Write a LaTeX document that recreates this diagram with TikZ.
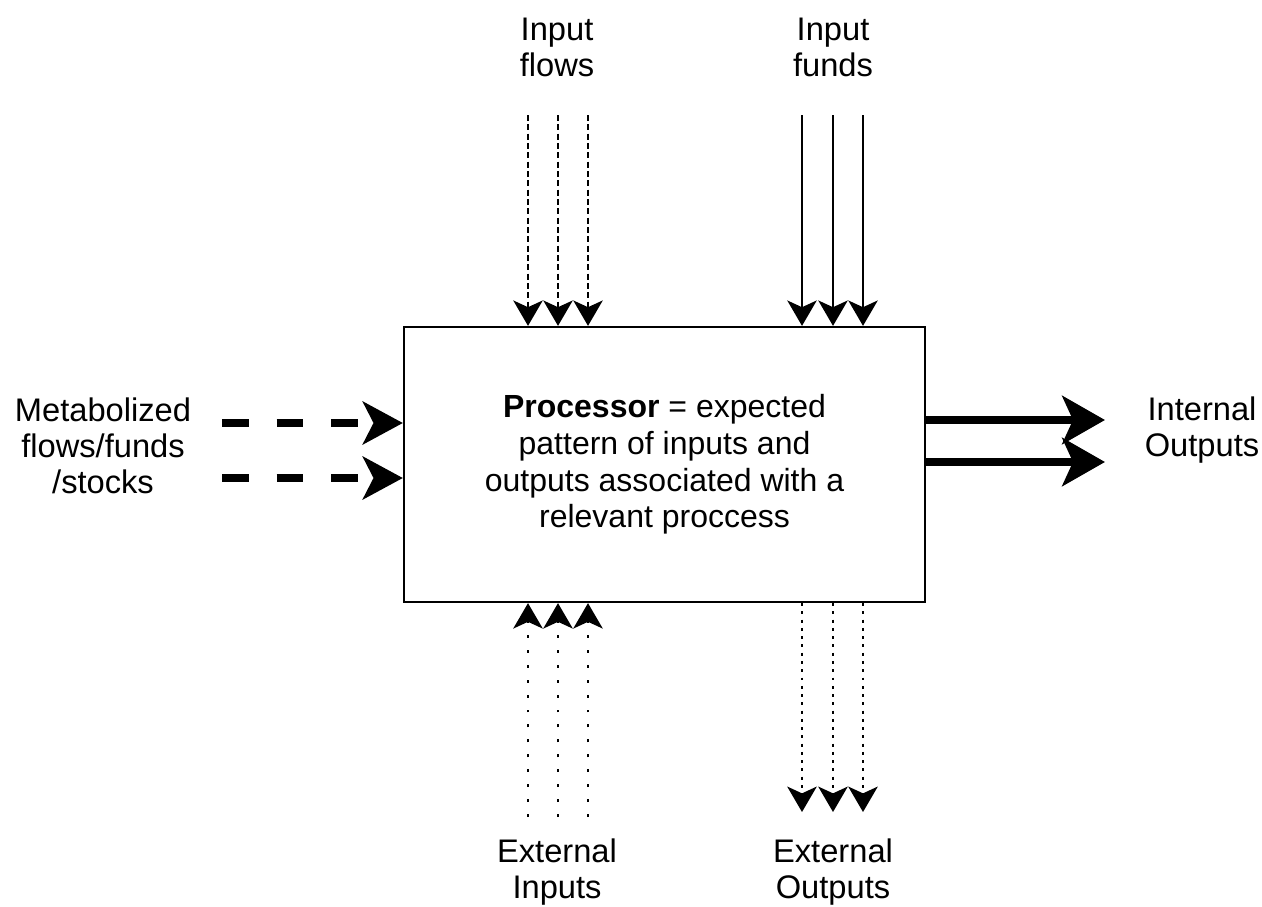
\documentclass[tikz,border=0pt]{standalone}
\usepackage{fontspec}
\setmainfont{Liberation Sans}
\usetikzlibrary{arrows.meta}
\begin{document}
\begin{tikzpicture}[x=0.75pt,y=-0.75pt,
  lbl/.style={align=center, inner sep=0pt, font=\fontsize{24.5}{27}\selectfont},
  procbox/.style={draw, line width=1.7pt, minimum width=390.75pt, minimum height=206.25pt,
    align=center, inner sep=0pt, font=\fontsize{24}{27.5}\selectfont},
  thintip/.style={-{Stealth[length=19pt,width=22pt,inset=5pt]}},
  flowin/.style={thintip, line width=2pt, dash pattern=on 4.5pt off 2.5pt},
  fundin/.style={thintip, line width=1.9pt},
  extin/.style={thintip, line width=2.2pt, dash pattern=on 2.2pt off 9pt},
  extout/.style={thintip, line width=2.2pt, dash pattern=on 2.2pt off 4pt},
  metab/.style={-{Stealth[length=30pt,width=32pt,inset=8pt]}, line width=6pt,
    dash pattern=on 20pt off 21pt},
  internal/.style={-{Stealth[length=32pt,width=36pt,inset=8pt]}, line width=6pt}]
\useasboundingbox (0,0) rectangle (1262,906);

% central processor
\node[procbox] (proc) at (664.5,464.5)
  {\textbf{Processor} = expected\\pattern of inputs and\\outputs associated with a\\relevant proccess};

% labels
\node[lbl] (lflows) at (557,47) {Input\\flows};
\node[lbl] (lfunds) at (833,47) {Input\\funds};
\node[lbl] (lmetab) at (103,446) {Metabolized\\flows/funds\\/stocks};
\node[lbl] (lint) at (1202,430) {Internal\\Outputs};
\node[lbl] (lextin) at (557,872) {External\\Inputs};
\node[lbl] (lextout) at (833,872) {External\\Outputs};

% free ends of the connectors
\coordinate (tf1) at (528,115);
\coordinate (tf2) at (558,115);
\coordinate (tf3) at (588,115);
\coordinate (tu1) at (802,115);
\coordinate (tu2) at (833,115);
\coordinate (tu3) at (863,115);
\coordinate (m1) at (222,423);
\coordinate (m2) at (222,478);
\coordinate (o1) at (1105,420);
\coordinate (o2) at (1105,462);
\coordinate (ei1) at (528,817);
\coordinate (ei2) at (558,817);
\coordinate (ei3) at (588,817);
\coordinate (eo1) at (802,812);
\coordinate (eo2) at (833,812);
\coordinate (eo3) at (863,812);

% input flows and funds
\foreach \c in {tf1,tf2,tf3} \draw[flowin] (\c) -- (\c |- proc.north);
\foreach \c in {tu1,tu2,tu3} \draw[fundin] (\c) -- (\c |- proc.north);

% metabolized elements
\foreach \c in {m1,m2} \draw[metab] (\c) -- (\c -| proc.west);

% internal outputs
\foreach \c in {o1,o2} \draw[internal] (\c -| proc.east) -- (\c);

% external inputs and outputs
\foreach \c in {ei1,ei2,ei3} \draw[extin] (\c) -- (\c |- proc.south);
\foreach \c in {eo1,eo2,eo3} \draw[extout] (\c |- proc.south) -- (\c);
\end{tikzpicture}
\end{document}
